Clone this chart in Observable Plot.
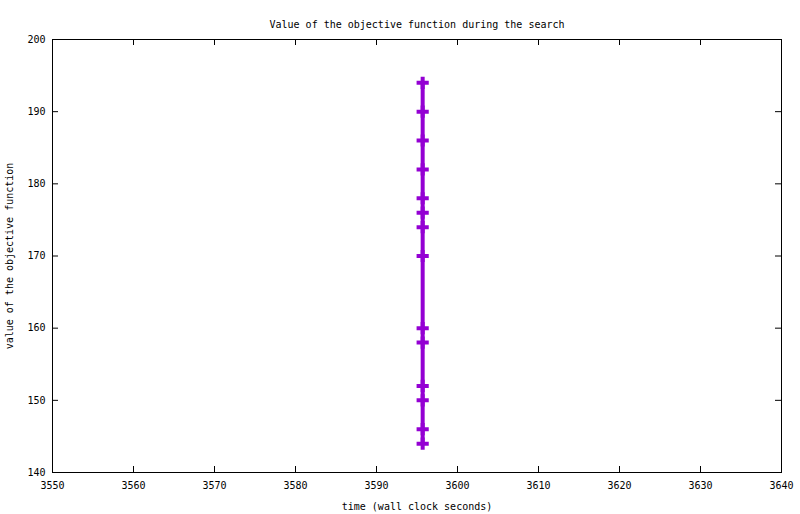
<!DOCTYPE html>
<html>
<head>
<meta charset="utf-8">
<script src="https://cdn.jsdelivr.net/npm/d3@7"></script>
<script src="https://cdn.jsdelivr.net/npm/@observablehq/plot@0.6"></script>
<style>
  html, body { margin: 0; padding: 0; background: #fff; }
  #chart svg { display: block; }
</style>
</head>
<body>
<div id="chart"></div>
<script>
const title = "Value of the objective function during the search";
const xLabel = "time (wall clock seconds)";
const yLabel = "value of the objective function";
const xTicks = [3550, 3560, 3570, 3580, 3590, 3600, 3610, 3620, 3630, 3640];
const yTicks = [140, 150, 160, 170, 180, 190, 200];
const times = [3595.7, 3595.7, 3595.7, 3595.7, 3595.7, 3595.7, 3595.7, 3595.7, 3595.7, 3595.7, 3595.7, 3595.7, 3595.7, 3595.7];
const values = [144, 146, 150, 152, 158, 160, 170, 174, 176, 178, 182, 186, 190, 194];

const data = times.map((t, i) => ({t, v: values[i]}));
const W = 800, H = 514, ml = 52, mr = 19, mt = 39, mb = 42;
const pw = W - ml - mr, ph = H - mt - mb;
const color = "#9400D3";

const chart = Plot.plot({
  width: W, height: H,
  marginLeft: ml, marginRight: mr, marginTop: mt, marginBottom: mb,
  style: {fontFamily: "'DejaVu Sans Mono', monospace", fontSize: "10px", color: "#000", background: "#fff"},
  x: {domain: [3550, 3640]},
  y: {domain: [140, 200]},
  marks: [
    Plot.axisX(xTicks, {tickSize: 0, tickPadding: 9, tickFormat: d3.format("d"), label: xLabel, labelAnchor: "center", labelArrow: "none", labelOffset: 37, fontSize: 10}),
    Plot.axisY(yTicks, {tickSize: 0, tickPadding: 7, tickFormat: d3.format("d"), label: yLabel, labelAnchor: "center", labelArrow: "none", labelOffset: 47, fontSize: 10}),
    Plot.tickX(xTicks, {x: d => d, insetTop: ph - 6, stroke: "#000"}),
    Plot.tickX(xTicks, {x: d => d, insetBottom: ph - 6, stroke: "#000"}),
    Plot.tickY(yTicks, {y: d => d, insetRight: pw - 6, stroke: "#000"}),
    Plot.tickY(yTicks, {y: d => d, insetLeft: pw - 6, stroke: "#000"}),
    Plot.frame({stroke: "#000", strokeWidth: 1}),
    Plot.line(data, {x: "t", y: "v", stroke: color, strokeWidth: 4}),
    Plot.dot(data, {x: "t", y: "v", symbol: "plus", r: 4, stroke: color, strokeWidth: 4, strokeLinecap: "butt"}),
    Plot.text([title], {frameAnchor: "top", dy: -19, text: d => d, fontSize: 10, fill: "#000"})
  ]
});
document.getElementById("chart").appendChild(chart);
</script>
</body>
</html>
